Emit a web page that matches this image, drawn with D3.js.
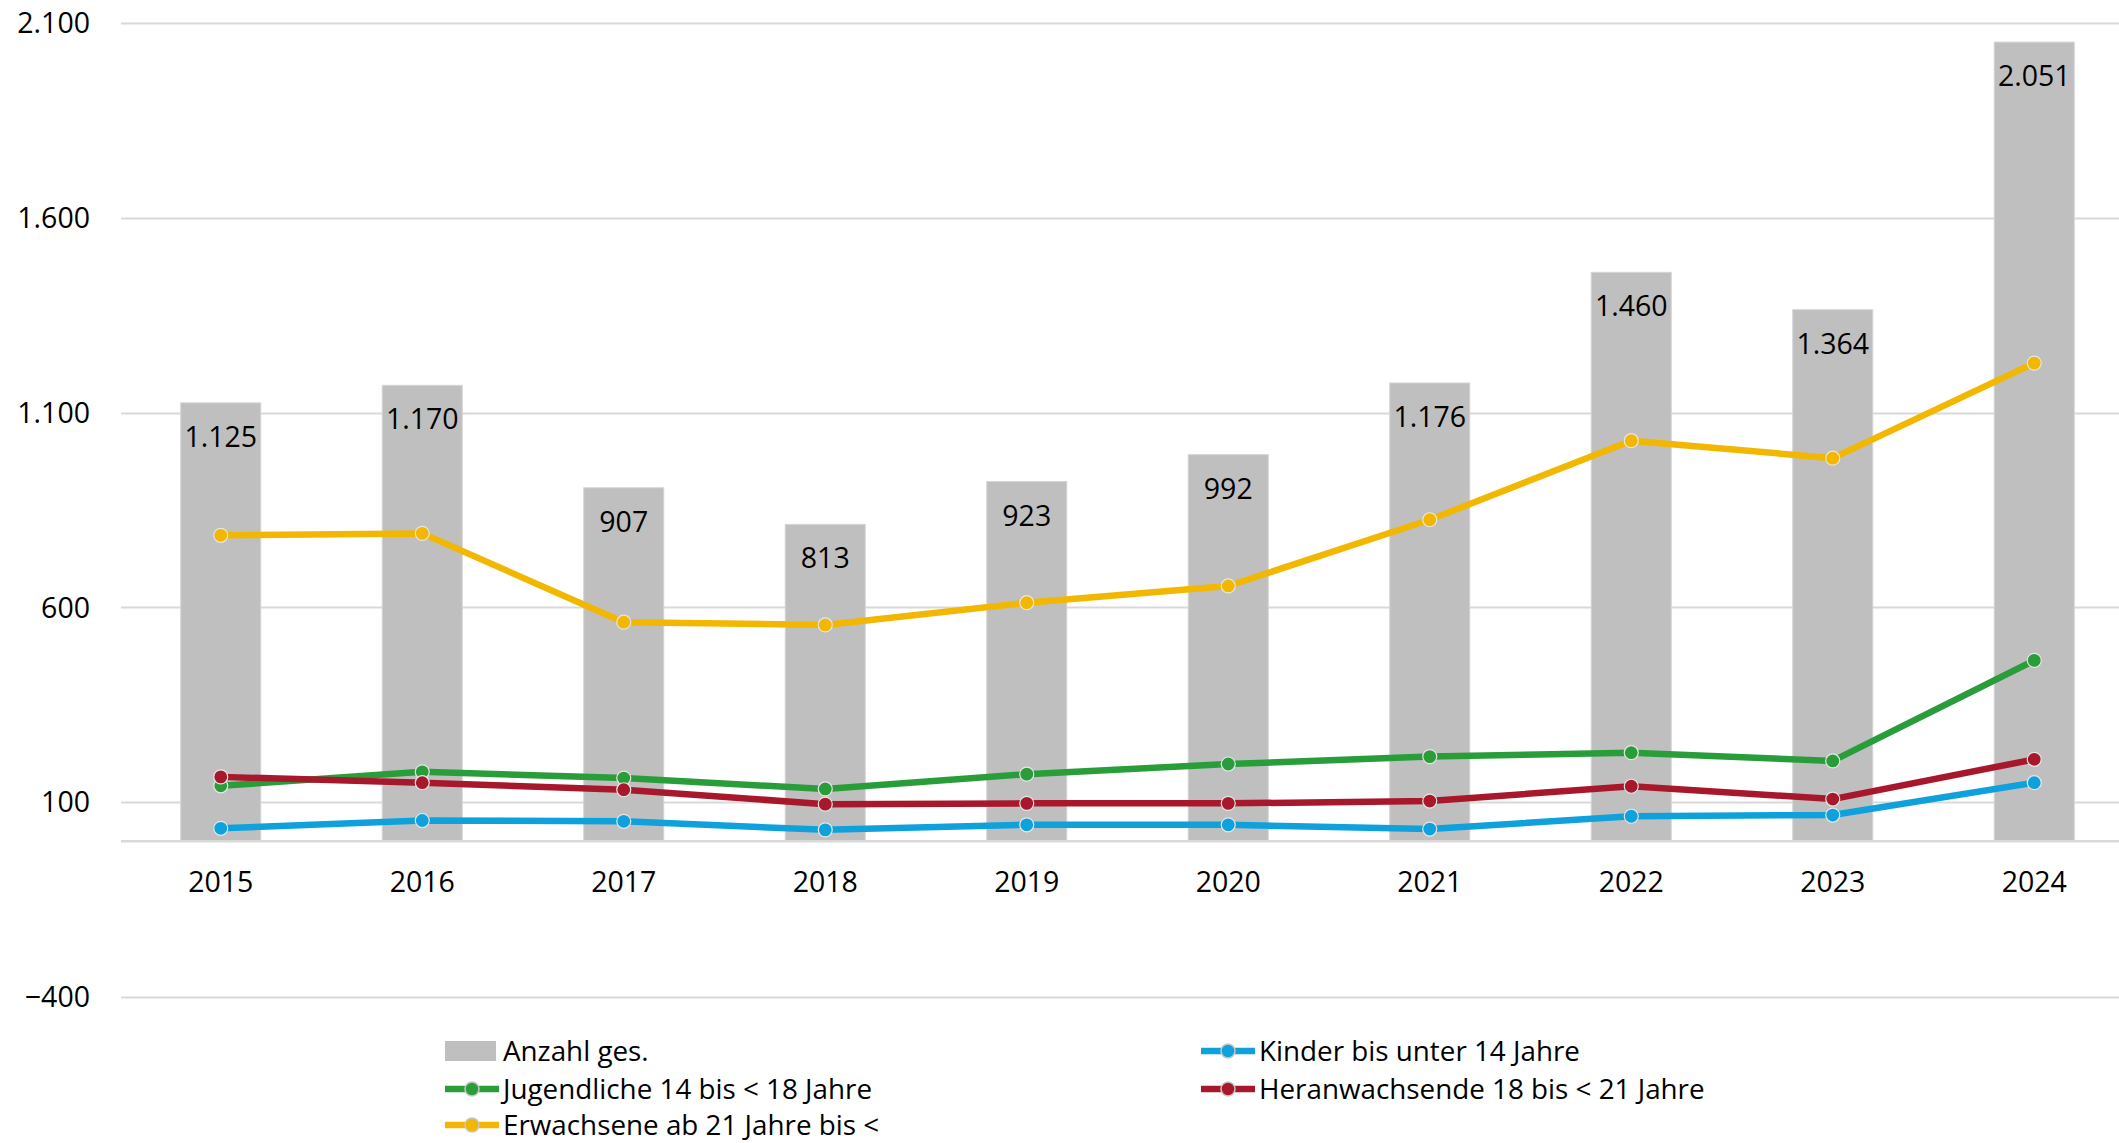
<!DOCTYPE html>
<html>
<head>
<meta charset="utf-8">
<script src="https://cdn.jsdelivr.net/npm/d3@7"></script>
<style>
  html, body { margin: 0; padding: 0; background: #fff; }
  svg { display: block; }
  text { font-family: "Open Sans", "Liberation Sans", sans-serif; fill: #000; }
</style>
</head>
<body>
<svg id="chart" width="2119" height="1143"></svg>
<script>
const years = ["2015","2016","2017","2018","2019","2020","2021","2022","2023","2024"];
const totalLabel = "Anzahl ges.";
const totals = [1125, 1170, 907, 813, 923, 992, 1176, 1460, 1364, 2051];
const kinder = [33, 53, 51, 29, 42, 42, 31, 64, 67, 150];
const jugendliche = [142, 178, 162, 134, 172, 198, 217, 227, 206, 464];
const heranwachsende = [165, 150, 132, 95, 97, 97, 103, 141, 108, 210];
const erwachsene = [785, 790, 562, 555, 612, 655, 825, 1028, 983, 1227];
const seriesNames = ["Kinder bis unter 14 Jahre", "Jugendliche 14 bis < 18 Jahre", "Heranwachsende 18 bis < 21 Jahre", "Erwachsene ab 21 Jahre bis <"];
const yTicks = [-400, 100, 600, 1100, 1600, 2100];

const seriesColors = ["#0EA1DB", "#2A9D3B", "#A8182D", "#F2B700"];
const series = [kinder, jugendliche, heranwachsende, erwachsene].map((vals, i) => ({
  name: seriesNames[i], values: vals, color: seriesColors[i]
}));

const svg = d3.select("#chart");
const fmt = v => d3.format(",")(v).replace(/,/g, ".");

const x = d3.scaleBand().domain(years).range([120, 2135]).paddingInner(0.603).paddingOuter(0.3015);
const y = d3.scaleLinear().domain([-400, 2100]).range([997, 23]);

// gridlines
svg.append("g").selectAll("line").data(yTicks).join("line")
  .attr("x1", 121).attr("x2", 2119)
  .attr("y1", d => Math.round(y(d)) + 0.5).attr("y2", d => Math.round(y(d)) + 0.5)
  .attr("stroke", "#D9D9D9").attr("stroke-width", 2);

// y labels
svg.append("g").selectAll("text").data(yTicks).join("text")
  .attr("x", 90).attr("y", d => y(d)).attr("dy", "0.36em")
  .attr("text-anchor", "end").attr("font-size", 28.5)
  .text(d => fmt(d));

// bars
svg.append("g").selectAll("rect").data(totals).join("rect")
  .attr("x", (d, i) => x(years[i])).attr("width", x.bandwidth())
  .attr("y", d => y(d)).attr("height", d => y(0) - y(d))
  .attr("fill", "#BFBFBF").attr("stroke", "#D4D4D4").attr("stroke-width", 1);

// axis line at zero
svg.append("line").attr("x1", 121).attr("x2", 2119)
  .attr("y1", y(0)).attr("y2", y(0))
  .attr("stroke", "#D9D9D9").attr("stroke-width", 2.5);

// x labels
svg.append("g").selectAll("text").data(years).join("text")
  .attr("x", d => x(d) + x.bandwidth() / 2).attr("y", 892)
  .attr("text-anchor", "middle").attr("font-size", 28.5)
  .text(d => d);

// bar labels
svg.append("g").selectAll("text").data(totals).join("text")
  .attr("x", (d, i) => x(years[i]) + x.bandwidth() / 2).attr("y", d => y(d) + 44)
  .attr("text-anchor", "middle").attr("font-size", 28.5)
  .text(d => fmt(d));

// lines
const cx = i => x(years[i]) + x.bandwidth() / 2;
const line = d3.line().x((d, i) => cx(i)).y(d => y(d));
series.forEach(s => {
  const g = svg.append("g");
  g.append("path").datum(s.values).attr("d", line)
    .attr("fill", "none").attr("stroke", s.color).attr("stroke-width", 6.5)
    .attr("stroke-linejoin", "round");
  g.selectAll("circle").data(s.values).join("circle")
    .attr("cx", (d, i) => cx(i)).attr("cy", d => y(d)).attr("r", 7)
    .attr("fill", s.color).attr("stroke", "#E6E6E6").attr("stroke-width", 1.2);
});

// legend
const legendItems = [
  { type: "bar", name: totalLabel, color: "#BFBFBF", col: 0, row: 0 },
  { type: "line", name: seriesNames[0], color: seriesColors[0], col: 1, row: 0 },
  { type: "line", name: seriesNames[1], color: seriesColors[1], col: 0, row: 1 },
  { type: "line", name: seriesNames[2], color: seriesColors[2], col: 1, row: 1 },
  { type: "line", name: seriesNames[3], color: seriesColors[3], col: 0, row: 2 }
];
const colX = [445, 1201];
const rowY = [1051, 1089, 1125];
const lg = svg.append("g");
legendItems.forEach(it => {
  const gx = colX[it.col], gy = rowY[it.row];
  if (it.type === "bar") {
    lg.append("rect").attr("x", gx).attr("y", gy - 10).attr("width", 51).attr("height", 20).attr("fill", it.color);
  } else {
    lg.append("line").attr("x1", gx).attr("x2", gx + 54).attr("y1", gy).attr("y2", gy)
      .attr("stroke", it.color).attr("stroke-width", 6.5);
    lg.append("circle").attr("cx", gx + 27).attr("cy", gy).attr("r", 7)
      .attr("fill", it.color).attr("stroke", "#C8C8C8").attr("stroke-width", 1.5);
  }
  lg.append("text").attr("x", gx + 58).attr("y", gy).attr("dy", "0.35em")
    .attr("font-size", 27.8).text(it.name);
});
</script>
</body>
</html>
